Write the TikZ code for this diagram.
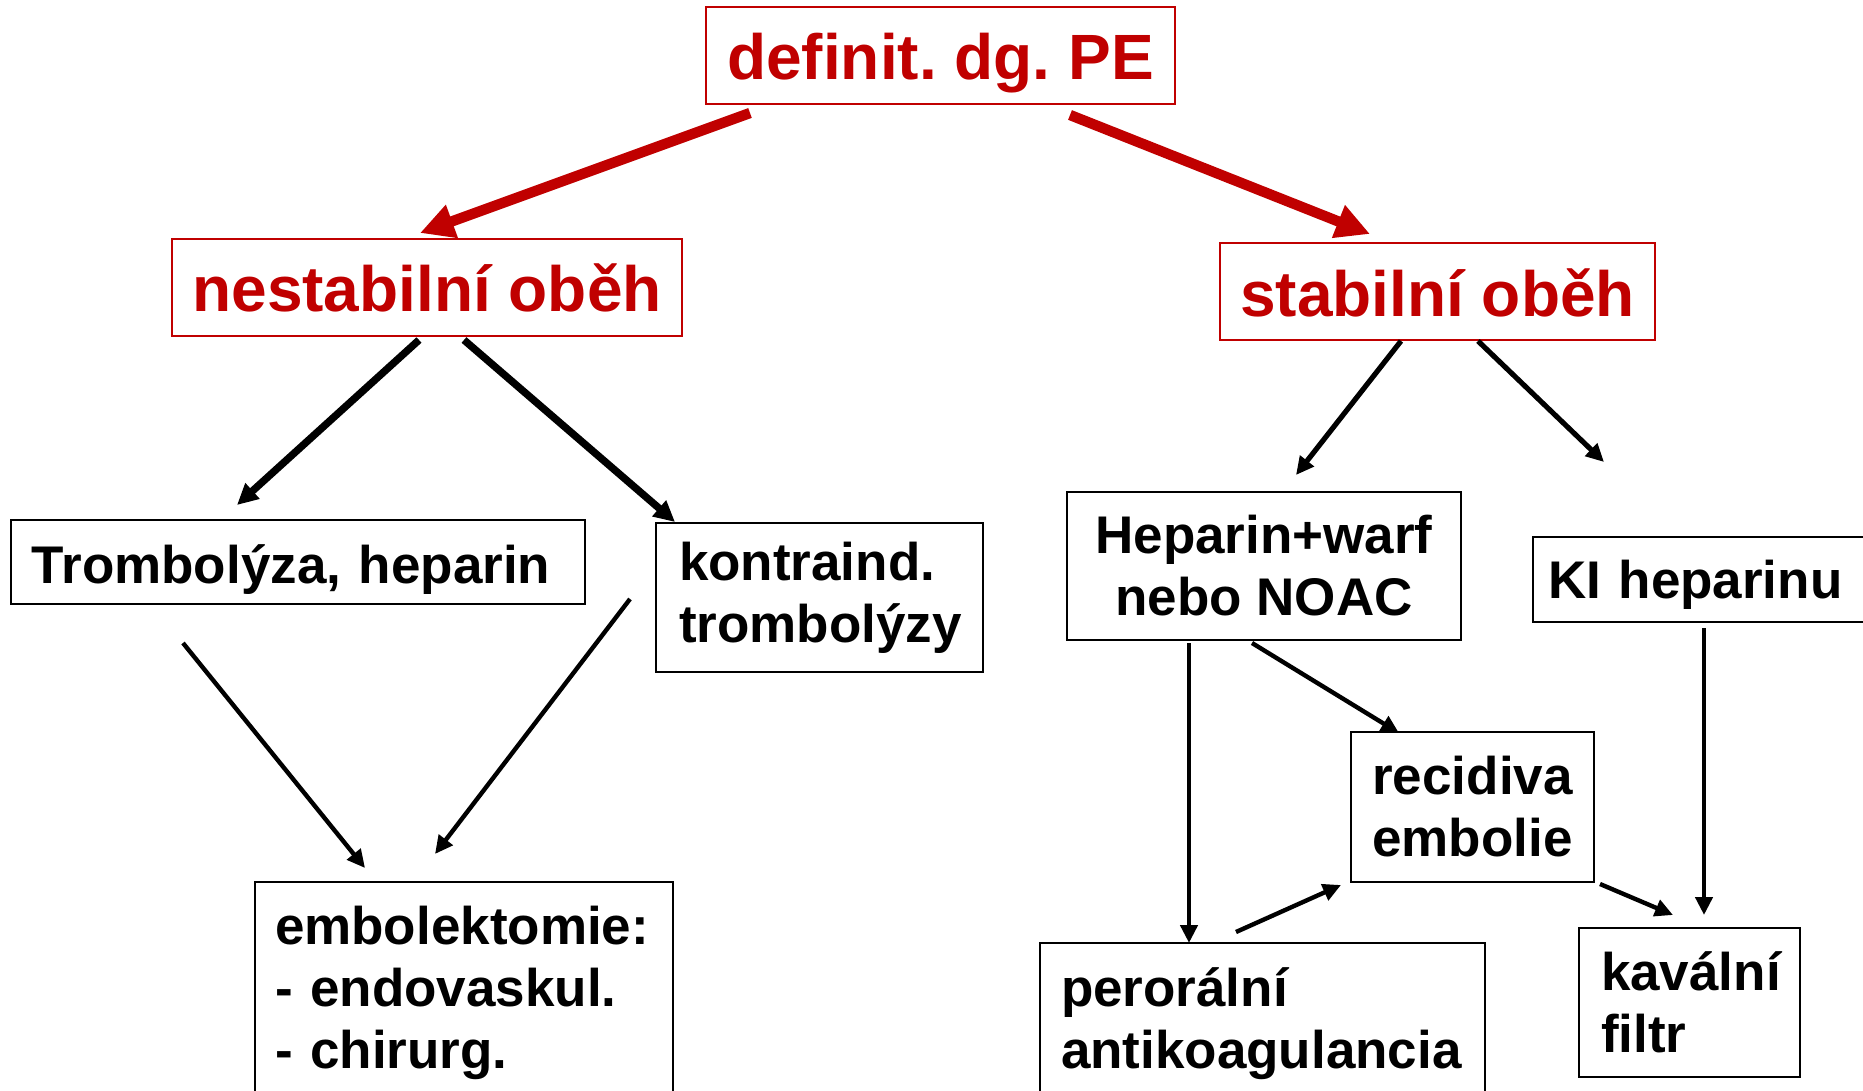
\documentclass[tikz,border=0pt]{standalone}
\usepackage{fontspec}
\setmainfont{Liberation Sans}
\usetikzlibrary{arrows.meta}
\definecolor{pered}{RGB}{192,0,0}
\hyphenpenalty=10000
\exhyphenpenalty=10000
\frenchspacing
\begin{document}
\begin{tikzpicture}[x=0.5pt,y=-0.5pt,
  redbox/.style={draw=pered, line width=1pt, text=pered, inner sep=0pt,
    font=\fontsize{32}{38}\selectfont\bfseries\frenchspacing, minimum height=48.5pt,
    text height=24.5pt, text depth=0pt},
  cbox/.style={draw=black, line width=1pt, inner sep=0pt, align=center,
    font=\fontsize{26.5}{31}\selectfont\bfseries\frenchspacing},
  lbox/.style={draw=black, line width=1pt, inner ysep=0pt, align=left,
    font=\fontsize{26.5}{31}\selectfont\bfseries\frenchspacing},
  oneline/.style={text height=19pt, text depth=0pt},
  redarrow/.style={draw=pered, line width=5.2pt, -{Triangle[length=17pt,width=16.5pt]}},
  thickarrow/.style={draw=black, line width=3.7pt, -{Triangle[length=10.5pt,width=10pt]}},
  midarrow/.style={draw=black, line width=2.6pt, -{Triangle[length=9pt,width=8.5pt]}},
  thinarrow/.style={draw=black, line width=2.2pt, -{Triangle[length=9pt,width=8.5pt]}}
]
\useasboundingbox (0,0) rectangle (1863,1091);
\clip (0,0) rectangle (1863,1091);
\fill[white] (0,0) rectangle (1863,1091);

% nodes
\node[redbox, minimum width=234.5pt] (top) at (940.5,55.5) {definit. dg. PE};
\node[redbox, minimum width=255pt] (nest) at (427,287.5) {nestabilní oběh};
\node[redbox, minimum width=217.5pt] (stab) at (1437.5,291.5) {stabilní oběh};

\node[lbox, oneline, text height=21pt, text width=266pt, inner xsep=10.5pt, minimum height=42pt] (tromb) at (298,562) {Trombolýza, heparin};
\node[lbox, text width=140.5pt, inner xsep=11.5pt, minimum height=74.5pt] (kontra) at (819.5,597.5) {kontraind.\\trombolýzy};
\node[cbox, minimum width=197pt, minimum height=74pt] (hep) at (1264,566) {Heparin+warf\\nebo NOAC};
\node[lbox, oneline, text width=158.5pt, inner xsep=7.5pt, minimum height=42.5pt] (ki) at (1706.5,579.5) {KI heparinu};
\node[cbox, minimum width=121.5pt, minimum height=75pt] (recid) at (1472.5,807) {recidiva\\embolie};
\node[lbox, text width=189pt, inner xsep=10pt, minimum height=111pt] (embol) at (464,993) {embolektomie:\\- endovaskul.\\- chirurg.};
\node[lbox, text width=201.5pt, inner xsep=10.5pt, minimum height=81.5pt] (peror) at (1262.5,1024) {perorální\\antikoagulancia};
\node[lbox, text width=88.5pt, inner xsep=11pt, minimum height=74.5pt] (kaval) at (1689.5,1002.5) {kavální\\filtr};

% arrow end points
\coordinate (r1s) at (750,113);  \coordinate (r1e) at (420,233);
\coordinate (r2s) at (1070,115); \coordinate (r2e) at (1370,234);
\coordinate (k1s) at (419,340);  \coordinate (k1e) at (237,505);
\coordinate (k2s) at (464,340);  \coordinate (k2e) at (675,522);
\coordinate (s1s) at (1401,341); \coordinate (s1e) at (1296,475);
\coordinate (s2s) at (1478,341); \coordinate (s2e) at (1604,462);
\coordinate (t1s) at (183,643);  \coordinate (t1e) at (365,868);
\coordinate (t2s) at (630,599);  \coordinate (t2e) at (435,854);
\coordinate (h1s) at (1189,643); \coordinate (h1e) at (1189,943);
\coordinate (h2s) at (1252,643); \coordinate (h2e) at (1399,733);
\coordinate (p1s) at (1236,932); \coordinate (p1e) at (1341,885);
\coordinate (rcs) at (1600,884); \coordinate (rce) at (1673,915);
\coordinate (kis) at (1704,628); \coordinate (kie) at (1704,915);

% connectors
\draw[redarrow] (r1s) -- (r1e);
\draw[redarrow] (r2s) -- (r2e);
\draw[thickarrow] (k1s) -- (k1e);
\draw[thickarrow] (k2s) -- (k2e);
\draw[midarrow] (s1s) -- (s1e);
\draw[midarrow] (s2s) -- (s2e);
\draw[thinarrow] (t1s) -- (t1e);
\draw[thinarrow] (t2s) -- (t2e);
\draw[thinarrow] (h1s) -- (h1e);
\draw[thinarrow] (h2s) -- (h2e);
\draw[thinarrow] (p1s) -- (p1e);
\draw[thinarrow] (rcs) -- (rce);
\draw[thinarrow] (kis) -- (kie);
\end{tikzpicture}
\end{document}
